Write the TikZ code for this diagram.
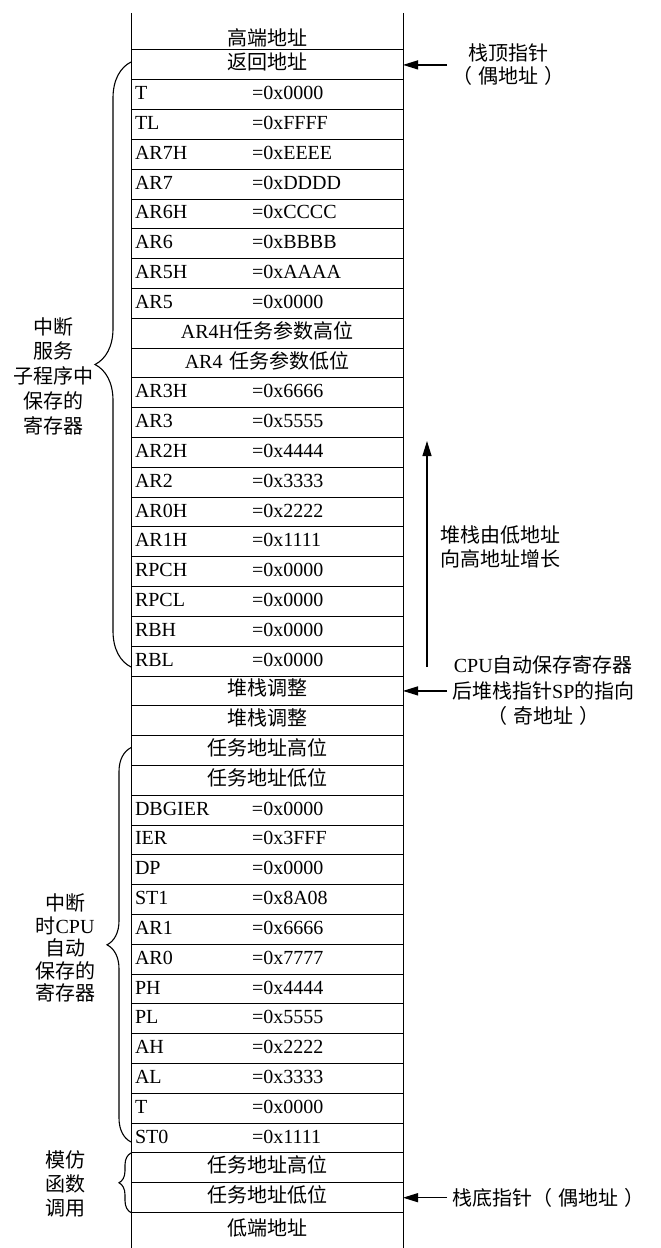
\documentclass[tikz,border=0pt]{standalone}
\usepackage{fontspec}
\setmainfont{Liberation Serif}
\newfontfamily\cjk{Noto Sans CJK SC}
\usepackage{tikz}
\usetikzlibrary{positioning, arrows.meta, decorations.pathreplacing}

\newcommand{\regval}[2]{\makebox[117pt][l]{#1}=#2}

\begin{document}
\begin{tikzpicture}[
    x=1pt, y=-1pt,
    font=\fontsize{20pt}{24pt}\selectfont,
    cell/.style={rectangle, draw=black, line width=1pt, minimum width=272pt, minimum height=29.81pt, text width=264pt, inner xsep=4pt, inner ysep=2pt, outer sep=0pt, text height=14pt, text depth=4pt},
    regcell/.style={cell, align=left},
    midcell/.style={cell, align=center},
    opencell/.style={midcell, draw=none},
    note/.style={align=center, inner xsep=5pt, inner ysep=0pt},
    arrow/.style={-{Triangle[length=15pt, width=9pt]}, line width=1.2pt},
    curly/.style={decorate, decoration={brace, amplitude=#1}, line width=1.1pt}
]
\useasboundingbox (0,0) rectangle (661,1248);

% Top of stack
\node[midcell] (ret) at (267,64.9) {\cjk 返回地址};
\node[opencell, text height=31pt, text depth=2pt, minimum height=37pt, above=0pt of ret] (high) {\cjk 高端地址};

% Registers saved by the ISR
\node[regcell, below=0pt of ret] (t1) {\regval{T}{0x0000}};
\node[regcell, below=0pt of t1] (tl) {\regval{TL}{0xFFFF}};
\node[regcell, below=0pt of tl] (ar7h) {\regval{AR7H}{0xEEEE}};
\node[regcell, below=0pt of ar7h] (ar7) {\regval{AR7}{0xDDDD}};
\node[regcell, below=0pt of ar7] (ar6h) {\regval{AR6H}{0xCCCC}};
\node[regcell, below=0pt of ar6h] (ar6) {\regval{AR6}{0xBBBB}};
\node[regcell, below=0pt of ar6] (ar5h) {\regval{AR5H}{0xAAAA}};
\node[regcell, below=0pt of ar5h] (ar5) {\regval{AR5}{0x0000}};
\node[midcell, below=0pt of ar5] (ar4h) {AR4H{\cjk 任务参数高位}};
\node[midcell, below=0pt of ar4h] (ar4) {AR4 {\cjk 任务参数低位}};
\node[regcell, below=0pt of ar4] (ar3h) {\regval{AR3H}{0x6666}};
\node[regcell, below=0pt of ar3h] (ar3) {\regval{AR3}{0x5555}};
\node[regcell, below=0pt of ar3] (ar2h) {\regval{AR2H}{0x4444}};
\node[regcell, below=0pt of ar2h] (ar2) {\regval{AR2}{0x3333}};
\node[regcell, below=0pt of ar2] (ar0h) {\regval{AR0H}{0x2222}};
\node[regcell, below=0pt of ar0h] (ar1h) {\regval{AR1H}{0x1111}};
\node[regcell, below=0pt of ar1h] (rpch) {\regval{RPCH}{0x0000}};
\node[regcell, below=0pt of rpch] (rpcl) {\regval{RPCL}{0x0000}};
\node[regcell, below=0pt of rpcl] (rbh) {\regval{RBH}{0x0000}};
\node[regcell, below=0pt of rbh] (rbl) {\regval{RBL}{0x0000}};

% Stack alignment
\node[midcell, below=0pt of rbl] (adj1) {\cjk 堆栈调整};
\node[midcell, below=0pt of adj1] (adj2) {\cjk 堆栈调整};

% Registers saved by the CPU
\node[midcell, below=0pt of adj2] (taskhi1) {\cjk 任务地址高位};
\node[midcell, below=0pt of taskhi1] (tasklo1) {\cjk 任务地址低位};
\node[regcell, below=0pt of tasklo1] (dbgier) {\regval{DBGIER}{0x0000}};
\node[regcell, below=0pt of dbgier] (ier) {\regval{IER}{0x3FFF}};
\node[regcell, below=0pt of ier] (dp) {\regval{DP}{0x0000}};
\node[regcell, below=0pt of dp] (st1) {\regval{ST1}{0x8A08}};
\node[regcell, below=0pt of st1] (ar1) {\regval{AR1}{0x6666}};
\node[regcell, below=0pt of ar1] (ar0) {\regval{AR0}{0x7777}};
\node[regcell, below=0pt of ar0] (ph) {\regval{PH}{0x4444}};
\node[regcell, below=0pt of ph] (pl) {\regval{PL}{0x5555}};
\node[regcell, below=0pt of pl] (ah) {\regval{AH}{0x2222}};
\node[regcell, below=0pt of ah] (al) {\regval{AL}{0x3333}};
\node[regcell, below=0pt of al] (t2) {\regval{T}{0x0000}};
\node[regcell, below=0pt of t2] (st0) {\regval{ST0}{0x1111}};

% Fake function call
\node[midcell, below=0pt of st0] (taskhi2) {\cjk 任务地址高位};
\node[midcell, below=0pt of taskhi2] (tasklo2) {\cjk 任务地址低位};
\node[opencell, minimum height=35.4pt, below=0pt of tasklo2] (low) {\cjk 低端地址};

% Column walls
\draw[line width=1pt] (high.north west) -- (low.south west);
\draw[line width=1pt] (high.north east) -- (low.south east);

% Braces and their labels
\draw[curly=36pt] ([yshift=9pt]rbl.south west) -- ([yshift=-12pt]ret.north west);
\draw[curly=24pt] ([yshift=11pt]st0.south west) -- ([yshift=-12pt]taskhi1.north west);
\draw[curly=12pt] (tasklo2.south west) -- (taskhi2.north west);
\node[note, font=\fontsize{20pt}{24.8pt}\selectfont\cjk] (isrtxt) at (53,376) {中断\\服务\\子程序中\\保存的\\寄存器};
\node[note, font=\fontsize{20pt}{22.5pt}\selectfont\cjk] (cputxt) at (65,948) {中断\\时{\rmfamily CPU}\\自动\\保存的\\寄存器};
\node[note, font=\fontsize{20pt}{24pt}\selectfont\cjk] (calltxt) at (65,1184) {模仿\\函数\\调用};

% Pointers
\node[note, font=\fontsize{20pt}{23pt}\selectfont\cjk, right=44pt of ret] (topptr) {栈顶指针\\（\hspace{6pt}偶地址\hspace{6pt}）};
\node[note, font=\fontsize{20pt}{25.5pt}\selectfont\cjk, right=44pt of adj1] (spptr) {{\rmfamily CPU}自动保存寄存器\\后堆栈指针{\rmfamily SP}的指向\\（\hspace{6pt}奇地址\hspace{6pt}）};
\node[note, font=\fontsize{20pt}{24pt}\selectfont\cjk, right=44pt of tasklo2] (botptr) {栈底指针（\hspace{6pt}偶地址\hspace{6pt}）};
\draw[arrow] (topptr) -- (ret);
\draw[arrow] (spptr) -- (adj1);
\draw[arrow] (botptr) -- (tasklo2);

% Growth direction
\coordinate (growlo) at (427,667);
\coordinate (growhi) at (427,441);
\draw[arrow] (growlo) -- (growhi);
\node[note, font=\fontsize{20pt}{24.3pt}\selectfont\cjk] (growtxt) at (500,547) {堆栈由低地址\\向高地址增长};

\end{tikzpicture}
\end{document}
